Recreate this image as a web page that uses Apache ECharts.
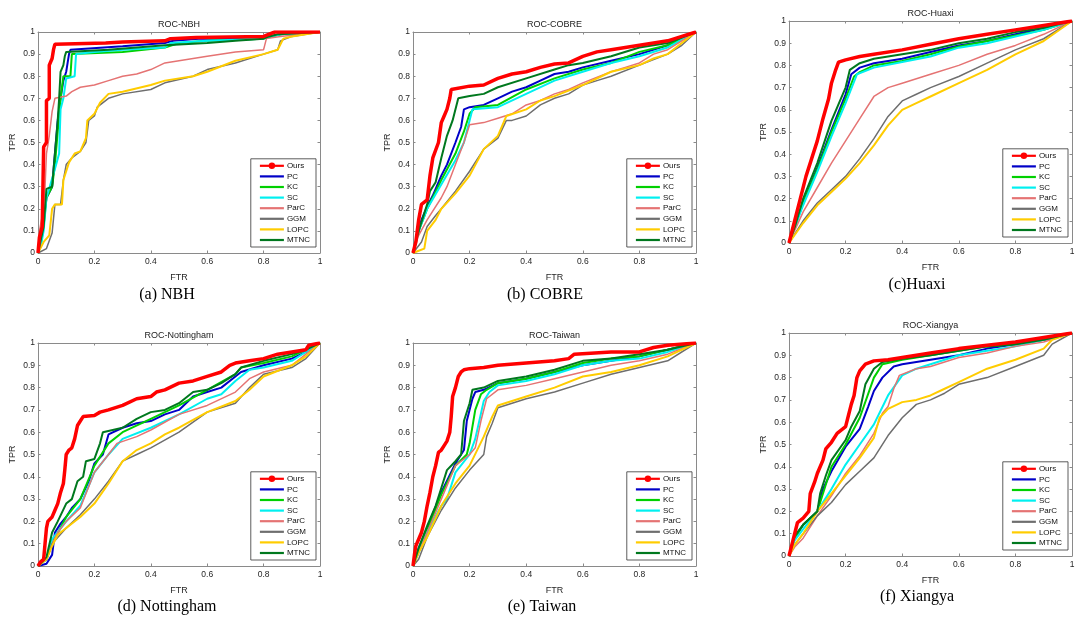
<!DOCTYPE html>
<html>
<head>
<meta charset="utf-8">
<script src="https://cdn.jsdelivr.net/npm/echarts@6/dist/echarts.min.js"></script>
<style>
  html, body { margin: 0; padding: 0; background: #fff; }
  #main { width: 1084px; height: 619px; }
</style>
</head>
<body>
<div id="main"></div>
<script>
// ---- data: [FTR, TPR] ----
const methods = ['Ours', 'PC', 'KC', 'SC', 'ParC', 'GGM', 'LOPC', 'MTNC'];
const xTicks = [0, 0.2, 0.4, 0.6, 0.8, 1];
const yTicks = [0, 0.1, 0.2, 0.3, 0.4, 0.5, 0.6, 0.7, 0.8, 0.9, 1];

// (a) NBH
const nbhOurs = [[0,0],[0.005,0.07],[0.015,0.12],[0.02,0.48],[0.03,0.5],[0.03,0.69],[0.04,0.7],[0.04,0.85],[0.05,0.88],[0.055,0.92],[0.06,0.945],[0.24,0.95],[0.3,0.955],[0.45,0.96],[0.47,0.97],[0.56,0.975],[0.8,0.98],[0.82,0.99],[0.84,1],[1,1]];
const nbhPC = [[0,0],[0.01,0.05],[0.02,0.15],[0.03,0.25],[0.05,0.3],[0.06,0.45],[0.07,0.6],[0.08,0.7],[0.09,0.78],[0.1,0.82],[0.105,0.86],[0.11,0.9],[0.115,0.92],[0.3,0.935],[0.45,0.95],[0.48,0.96],[0.57,0.97],[0.7,0.97],[0.8,0.975],[0.86,0.99],[1,1]];
const nbhKC = [[0,0],[0.01,0.04],[0.02,0.12],[0.03,0.25],[0.05,0.3],[0.06,0.4],[0.07,0.55],[0.08,0.7],[0.09,0.8],[0.115,0.8],[0.12,0.9],[0.3,0.91],[0.45,0.93],[0.5,0.95],[0.6,0.96],[0.8,0.97],[0.86,0.99],[1,1]];
const nbhSC = [[0,0],[0.01,0.03],[0.02,0.1],[0.03,0.25],[0.06,0.38],[0.075,0.45],[0.08,0.65],[0.09,0.7],[0.1,0.79],[0.13,0.8],[0.135,0.9],[0.2,0.91],[0.3,0.92],[0.45,0.93],[0.47,0.95],[0.6,0.96],[0.8,0.97],[0.86,0.99],[1,1]];
const nbhParC = [[0,0],[0.005,0.1],[0.02,0.2],[0.025,0.3],[0.03,0.45],[0.04,0.53],[0.05,0.64],[0.06,0.7],[0.1,0.71],[0.12,0.73],[0.15,0.75],[0.2,0.76],[0.25,0.78],[0.3,0.8],[0.35,0.81],[0.4,0.83],[0.45,0.86],[0.5,0.87],[0.6,0.89],[0.7,0.91],[0.8,0.92],[0.81,0.97],[0.86,0.98],[1,1]];
const nbhGGM = [[0,0],[0.03,0.02],[0.05,0.09],[0.06,0.22],[0.08,0.22],[0.09,0.33],[0.1,0.4],[0.12,0.43],[0.15,0.46],[0.17,0.5],[0.18,0.6],[0.2,0.62],[0.21,0.66],[0.25,0.7],[0.3,0.72],[0.4,0.74],[0.45,0.77],[0.55,0.8],[0.6,0.83],[0.7,0.86],[0.8,0.9],[0.85,0.92],[0.86,0.96],[0.9,0.98],[1,1]];
const nbhLOPC = [[0,0],[0.02,0.05],[0.04,0.08],[0.05,0.2],[0.06,0.22],[0.085,0.22],[0.09,0.33],[0.11,0.41],[0.13,0.45],[0.15,0.46],[0.17,0.52],[0.175,0.6],[0.2,0.63],[0.22,0.68],[0.25,0.72],[0.3,0.73],[0.4,0.76],[0.45,0.78],[0.55,0.8],[0.6,0.82],[0.7,0.87],[0.8,0.9],[0.85,0.92],[0.87,0.97],[0.9,0.98],[1,1]];
const nbhMTNC = [[0,0],[0.01,0.06],[0.02,0.12],[0.03,0.29],[0.05,0.3],[0.06,0.45],[0.07,0.6],[0.075,0.7],[0.08,0.82],[0.09,0.85],[0.095,0.89],[0.1,0.91],[0.25,0.92],[0.45,0.94],[0.6,0.95],[0.7,0.96],[0.8,0.97],[0.82,0.98],[0.85,0.99],[1,1]];

// (b) COBRE
const cobreOurs = [[0,0],[0.01,0.05],[0.02,0.15],[0.03,0.22],[0.05,0.24],[0.06,0.35],[0.07,0.43],[0.09,0.5],[0.1,0.59],[0.11,0.62],[0.12,0.65],[0.13,0.7],[0.135,0.74],[0.2,0.755],[0.25,0.76],[0.3,0.79],[0.35,0.81],[0.4,0.82],[0.45,0.84],[0.5,0.855],[0.55,0.86],[0.6,0.89],[0.65,0.91],[0.7,0.92],[0.8,0.94],[0.9,0.96],[0.95,0.98],[1,1]];
const cobrePC = [[0,0],[0.03,0.15],[0.05,0.21],[0.07,0.26],[0.1,0.35],[0.12,0.4],[0.15,0.5],[0.17,0.57],[0.18,0.65],[0.2,0.66],[0.25,0.67],[0.3,0.7],[0.35,0.73],[0.4,0.75],[0.45,0.78],[0.5,0.81],[0.55,0.82],[0.6,0.84],[0.7,0.87],[0.8,0.9],[0.9,0.94],[1,1]];
const cobreKC = [[0,0],[0.02,0.1],[0.05,0.2],[0.1,0.33],[0.15,0.45],[0.18,0.55],[0.2,0.63],[0.22,0.66],[0.3,0.67],[0.4,0.74],[0.5,0.79],[0.6,0.83],[0.7,0.86],[0.8,0.91],[0.9,0.94],[1,1]];
const cobreSC = [[0,0],[0.02,0.1],[0.05,0.2],[0.1,0.31],[0.15,0.42],[0.18,0.5],[0.2,0.6],[0.21,0.65],[0.3,0.66],[0.4,0.72],[0.5,0.78],[0.6,0.82],[0.7,0.86],[0.8,0.89],[0.9,0.93],[1,1]];
const cobreParC = [[0,0],[0.02,0.08],[0.05,0.15],[0.1,0.25],[0.12,0.3],[0.15,0.4],[0.18,0.5],[0.2,0.58],[0.25,0.59],[0.3,0.61],[0.35,0.63],[0.4,0.67],[0.45,0.69],[0.5,0.72],[0.55,0.74],[0.6,0.77],[0.7,0.82],[0.75,0.84],[0.8,0.86],[0.85,0.9],[0.9,0.92],[1,1]];
const cobreGGM = [[0,0],[0.03,0.05],[0.05,0.12],[0.08,0.17],[0.1,0.2],[0.15,0.28],[0.2,0.37],[0.25,0.47],[0.3,0.52],[0.33,0.6],[0.35,0.6],[0.4,0.62],[0.45,0.67],[0.5,0.7],[0.55,0.72],[0.6,0.76],[0.65,0.78],[0.7,0.8],[0.8,0.85],[0.9,0.9],[0.95,0.94],[1,1]];
const cobreLOPC = [[0,0],[0.02,0.01],[0.04,0.02],[0.05,0.1],[0.08,0.15],[0.1,0.2],[0.15,0.27],[0.2,0.35],[0.25,0.47],[0.3,0.53],[0.33,0.62],[0.4,0.65],[0.45,0.69],[0.5,0.71],[0.6,0.76],[0.7,0.82],[0.8,0.85],[0.85,0.88],[0.9,0.9],[0.95,0.95],[1,1]];
const cobreMTNC = [[0,0],[0.02,0.1],[0.05,0.22],[0.06,0.28],[0.08,0.32],[0.1,0.43],[0.12,0.53],[0.14,0.6],[0.16,0.7],[0.2,0.71],[0.25,0.72],[0.3,0.75],[0.4,0.79],[0.5,0.83],[0.55,0.85],[0.6,0.86],[0.7,0.89],[0.8,0.93],[0.9,0.95],[1,1]];

// (c) Huaxi
const huaxiOurs = [[0,0],[0.02,0.1],[0.04,0.2],[0.06,0.3],[0.08,0.38],[0.1,0.46],[0.12,0.56],[0.14,0.65],[0.15,0.72],[0.165,0.78],[0.175,0.815],[0.2,0.825],[0.25,0.84],[0.3,0.85],[0.4,0.87],[0.5,0.895],[0.6,0.92],[0.7,0.94],[0.8,0.96],[0.9,0.98],[1,1]];
const huaxiPC = [[0,0],[0.05,0.18],[0.1,0.34],[0.15,0.51],[0.2,0.67],[0.22,0.76],[0.25,0.79],[0.3,0.81],[0.4,0.83],[0.5,0.86],[0.6,0.89],[0.7,0.91],[0.8,0.94],[0.9,0.97],[1,1]];
const huaxiKC = [[0,0],[0.05,0.18],[0.1,0.33],[0.15,0.5],[0.2,0.65],[0.23,0.75],[0.25,0.77],[0.3,0.8],[0.4,0.82],[0.5,0.85],[0.6,0.885],[0.7,0.91],[0.8,0.935],[0.9,0.96],[1,1]];
const huaxiSC = [[0,0],[0.05,0.17],[0.1,0.32],[0.15,0.48],[0.2,0.63],[0.24,0.76],[0.3,0.79],[0.4,0.815],[0.5,0.84],[0.6,0.88],[0.7,0.9],[0.8,0.93],[0.9,0.96],[1,1]];
const huaxiParC = [[0,0],[0.05,0.14],[0.1,0.25],[0.15,0.36],[0.2,0.46],[0.25,0.56],[0.3,0.66],[0.35,0.7],[0.4,0.72],[0.5,0.76],[0.6,0.8],[0.7,0.85],[0.8,0.89],[0.9,0.94],[1,1]];
const huaxiGGM = [[0,0],[0.05,0.1],[0.1,0.18],[0.15,0.24],[0.2,0.3],[0.25,0.38],[0.3,0.47],[0.35,0.57],[0.4,0.64],[0.45,0.67],[0.5,0.7],[0.6,0.75],[0.7,0.81],[0.8,0.87],[0.9,0.92],[1,1]];
const huaxiLOPC = [[0,0],[0.05,0.09],[0.1,0.17],[0.15,0.23],[0.2,0.29],[0.25,0.36],[0.3,0.44],[0.35,0.53],[0.4,0.6],[0.45,0.63],[0.5,0.66],[0.6,0.72],[0.7,0.78],[0.8,0.85],[0.9,0.91],[1,1]];
const huaxiMTNC = [[0,0],[0.02,0.07],[0.05,0.2],[0.1,0.36],[0.15,0.55],[0.2,0.7],[0.215,0.78],[0.25,0.81],[0.3,0.83],[0.4,0.85],[0.5,0.87],[0.6,0.9],[0.7,0.92],[0.8,0.95],[0.9,0.97],[1,1]];

// (d) Nottingham
const nottOurs = [[0,0],[0.01,0.02],[0.02,0.03],[0.025,0.1],[0.03,0.17],[0.035,0.2],[0.05,0.22],[0.06,0.25],[0.07,0.28],[0.08,0.33],[0.09,0.37],[0.095,0.43],[0.1,0.5],[0.11,0.52],[0.12,0.53],[0.13,0.57],[0.14,0.63],[0.15,0.65],[0.16,0.67],[0.2,0.675],[0.22,0.69],[0.25,0.7],[0.3,0.72],[0.35,0.75],[0.4,0.76],[0.42,0.78],[0.45,0.79],[0.5,0.82],[0.55,0.83],[0.6,0.85],[0.65,0.87],[0.68,0.9],[0.7,0.91],[0.75,0.92],[0.8,0.93],[0.85,0.95],[0.9,0.96],[0.95,0.97],[0.96,0.99],[1,1]];
const nottPC = [[0,0],[0.03,0.01],[0.05,0.05],[0.06,0.15],[0.08,0.19],[0.1,0.22],[0.12,0.26],[0.15,0.3],[0.18,0.38],[0.2,0.46],[0.23,0.5],[0.25,0.59],[0.3,0.62],[0.35,0.64],[0.4,0.65],[0.45,0.68],[0.5,0.7],[0.55,0.76],[0.6,0.78],[0.65,0.8],[0.7,0.85],[0.72,0.87],[0.8,0.9],[0.9,0.93],[0.95,0.96],[1,1]];
const nottKC = [[0,0],[0.03,0.03],[0.05,0.1],[0.1,0.22],[0.15,0.3],[0.2,0.45],[0.25,0.55],[0.3,0.6],[0.4,0.66],[0.5,0.72],[0.6,0.79],[0.7,0.86],[0.72,0.89],[0.8,0.91],[0.9,0.94],[1,1]];
const nottSC = [[0,0],[0.03,0.03],[0.05,0.12],[0.1,0.2],[0.15,0.27],[0.2,0.42],[0.25,0.5],[0.3,0.57],[0.4,0.62],[0.5,0.68],[0.6,0.75],[0.65,0.77],[0.7,0.83],[0.75,0.88],[0.8,0.89],[0.9,0.92],[1,1]];
const nottParC = [[0,0],[0.03,0.03],[0.05,0.1],[0.07,0.15],[0.1,0.2],[0.15,0.26],[0.2,0.42],[0.25,0.5],[0.28,0.55],[0.35,0.58],[0.4,0.61],[0.5,0.68],[0.6,0.72],[0.7,0.78],[0.75,0.84],[0.8,0.87],[0.9,0.9],[0.95,0.95],[1,1]];
const nottGGM = [[0,0],[0.03,0.03],[0.05,0.1],[0.1,0.17],[0.15,0.23],[0.2,0.3],[0.25,0.38],[0.3,0.47],[0.35,0.5],[0.4,0.53],[0.5,0.6],[0.6,0.69],[0.7,0.73],[0.75,0.8],[0.8,0.86],[0.9,0.89],[0.95,0.93],[1,1]];
const nottLOPC = [[0,0],[0.03,0.03],[0.05,0.09],[0.07,0.14],[0.1,0.17],[0.15,0.22],[0.2,0.28],[0.25,0.37],[0.3,0.47],[0.35,0.52],[0.4,0.55],[0.45,0.59],[0.5,0.62],[0.6,0.69],[0.7,0.74],[0.75,0.79],[0.8,0.85],[0.9,0.9],[0.95,0.94],[1,1]];
const nottMTNC = [[0,0],[0.03,0.04],[0.05,0.15],[0.07,0.2],[0.1,0.28],[0.12,0.3],[0.14,0.38],[0.16,0.4],[0.17,0.47],[0.2,0.48],[0.22,0.55],[0.23,0.6],[0.3,0.62],[0.35,0.66],[0.4,0.69],[0.45,0.7],[0.5,0.73],[0.55,0.78],[0.6,0.79],[0.65,0.82],[0.7,0.86],[0.72,0.89],[0.8,0.92],[0.9,0.95],[0.95,0.97],[1,1]];

// (e) Taiwan
const taiwanOurs = [[0,0],[0.005,0.05],[0.01,0.09],[0.02,0.12],[0.03,0.15],[0.04,0.2],[0.05,0.27],[0.06,0.33],[0.07,0.4],[0.08,0.45],[0.09,0.51],[0.1,0.52],[0.11,0.54],[0.12,0.56],[0.13,0.6],[0.135,0.67],[0.14,0.76],[0.15,0.8],[0.16,0.85],[0.17,0.87],[0.18,0.88],[0.2,0.885],[0.25,0.89],[0.3,0.9],[0.4,0.91],[0.5,0.92],[0.55,0.93],[0.57,0.95],[0.7,0.96],[0.8,0.96],[0.85,0.98],[0.9,0.99],[1,1]];
const taiwanPC = [[0,0],[0.02,0.08],[0.05,0.17],[0.1,0.33],[0.15,0.46],[0.18,0.52],[0.19,0.65],[0.21,0.75],[0.22,0.78],[0.25,0.79],[0.3,0.82],[0.4,0.84],[0.5,0.87],[0.6,0.9],[0.7,0.92],[0.8,0.94],[0.9,0.97],[1,1]];
const taiwanKC = [[0,0],[0.02,0.07],[0.05,0.16],[0.1,0.32],[0.15,0.45],[0.19,0.5],[0.2,0.55],[0.22,0.7],[0.24,0.77],[0.26,0.79],[0.3,0.82],[0.4,0.84],[0.5,0.87],[0.6,0.91],[0.7,0.93],[0.8,0.94],[0.9,0.97],[1,1]];
const taiwanSC = [[0,0],[0.02,0.06],[0.05,0.15],[0.1,0.27],[0.12,0.3],[0.15,0.42],[0.2,0.5],[0.22,0.57],[0.25,0.74],[0.27,0.78],[0.3,0.81],[0.4,0.83],[0.5,0.86],[0.6,0.9],[0.7,0.92],[0.8,0.93],[0.9,0.96],[1,1]];
const taiwanParC = [[0,0],[0.02,0.06],[0.05,0.15],[0.1,0.3],[0.15,0.45],[0.2,0.5],[0.22,0.53],[0.24,0.65],[0.26,0.75],[0.3,0.79],[0.4,0.81],[0.5,0.84],[0.6,0.87],[0.7,0.9],[0.8,0.92],[0.9,0.95],[1,1]];
const taiwanGGM = [[0,0],[0.02,0.03],[0.05,0.13],[0.1,0.25],[0.15,0.35],[0.2,0.43],[0.25,0.5],[0.26,0.58],[0.28,0.64],[0.3,0.71],[0.35,0.73],[0.4,0.75],[0.5,0.78],[0.6,0.82],[0.7,0.86],[0.8,0.89],[0.9,0.92],[1,1]];
const taiwanLOPC = [[0,0],[0.02,0.06],[0.05,0.13],[0.1,0.27],[0.15,0.37],[0.2,0.45],[0.25,0.58],[0.28,0.67],[0.3,0.72],[0.35,0.74],[0.4,0.76],[0.5,0.8],[0.6,0.85],[0.7,0.87],[0.8,0.9],[0.9,0.94],[1,1]];
const taiwanMTNC = [[0,0],[0.02,0.08],[0.05,0.18],[0.08,0.27],[0.1,0.35],[0.12,0.43],[0.15,0.47],[0.17,0.5],[0.18,0.65],[0.2,0.73],[0.21,0.79],[0.25,0.8],[0.3,0.83],[0.4,0.85],[0.5,0.88],[0.6,0.92],[0.7,0.93],[0.8,0.95],[0.9,0.97],[1,1]];

// (f) Xiangya
const xiangyaOurs = [[0,0],[0.01,0.05],[0.02,0.1],[0.03,0.15],[0.05,0.17],[0.07,0.2],[0.075,0.28],[0.09,0.33],[0.1,0.37],[0.12,0.43],[0.13,0.48],[0.15,0.51],[0.17,0.55],[0.2,0.58],[0.21,0.63],[0.22,0.68],[0.23,0.72],[0.24,0.8],[0.25,0.83],[0.27,0.86],[0.3,0.875],[0.35,0.88],[0.4,0.89],[0.5,0.91],[0.6,0.93],[0.7,0.945],[0.8,0.96],[0.9,0.98],[1,1]];
const xiangyaPC = [[0,0],[0.02,0.08],[0.05,0.14],[0.1,0.2],[0.12,0.3],[0.15,0.38],[0.2,0.49],[0.25,0.57],[0.28,0.67],[0.3,0.74],[0.33,0.8],[0.37,0.85],[0.4,0.86],[0.5,0.88],[0.6,0.9],[0.7,0.93],[0.8,0.95],[0.9,0.97],[1,1]];
const xiangyaKC = [[0,0],[0.02,0.08],[0.05,0.14],[0.1,0.2],[0.15,0.4],[0.2,0.5],[0.25,0.62],[0.3,0.8],[0.33,0.86],[0.4,0.88],[0.5,0.9],[0.6,0.92],[0.7,0.94],[0.8,0.95],[0.9,0.97],[1,1]];
const xiangyaSC = [[0,0],[0.02,0.07],[0.05,0.12],[0.1,0.2],[0.15,0.3],[0.2,0.41],[0.25,0.5],[0.3,0.59],[0.35,0.72],[0.4,0.81],[0.45,0.84],[0.5,0.86],[0.6,0.9],[0.7,0.92],[0.8,0.94],[0.9,0.97],[1,1]];
const xiangyaParC = [[0,0],[0.02,0.04],[0.05,0.08],[0.1,0.18],[0.15,0.27],[0.2,0.37],[0.25,0.45],[0.3,0.55],[0.33,0.64],[0.35,0.67],[0.37,0.75],[0.39,0.81],[0.45,0.84],[0.5,0.85],[0.6,0.89],[0.7,0.91],[0.8,0.94],[0.9,0.96],[1,1]];
const xiangyaGGM = [[0,0],[0.02,0.05],[0.05,0.1],[0.1,0.18],[0.15,0.24],[0.2,0.32],[0.25,0.38],[0.3,0.44],[0.35,0.54],[0.4,0.62],[0.45,0.68],[0.5,0.7],[0.55,0.73],[0.6,0.77],[0.7,0.8],[0.8,0.85],[0.9,0.9],[0.93,0.95],[1,1]];
const xiangyaLOPC = [[0,0],[0.02,0.05],[0.05,0.1],[0.1,0.2],[0.15,0.28],[0.2,0.36],[0.25,0.44],[0.3,0.53],[0.32,0.62],[0.35,0.66],[0.4,0.69],[0.45,0.7],[0.5,0.72],[0.55,0.75],[0.6,0.78],[0.7,0.84],[0.8,0.88],[0.9,0.93],[0.93,0.97],[1,1]];
const xiangyaMTNC = [[0,0],[0.02,0.09],[0.05,0.14],[0.1,0.2],[0.11,0.28],[0.13,0.36],[0.15,0.43],[0.2,0.52],[0.22,0.58],[0.25,0.65],[0.27,0.77],[0.3,0.84],[0.33,0.87],[0.4,0.885],[0.5,0.9],[0.6,0.92],[0.7,0.94],[0.8,0.95],[0.9,0.97],[1,1]];

const titles = ['ROC-NBH', 'ROC-COBRE', 'ROC-Huaxi', 'ROC-Nottingham', 'ROC-Taiwan', 'ROC-Xiangya'];
const captions = ['(a) NBH', '(b) COBRE', '(c)Huaxi', '(d) Nottingham', '(e) Taiwan', '(f) Xiangya'];
const curves = [
  [nbhOurs, nbhPC, nbhKC, nbhSC, nbhParC, nbhGGM, nbhLOPC, nbhMTNC],
  [cobreOurs, cobrePC, cobreKC, cobreSC, cobreParC, cobreGGM, cobreLOPC, cobreMTNC],
  [huaxiOurs, huaxiPC, huaxiKC, huaxiSC, huaxiParC, huaxiGGM, huaxiLOPC, huaxiMTNC],
  [nottOurs, nottPC, nottKC, nottSC, nottParC, nottGGM, nottLOPC, nottMTNC],
  [taiwanOurs, taiwanPC, taiwanKC, taiwanSC, taiwanParC, taiwanGGM, taiwanLOPC, taiwanMTNC],
  [xiangyaOurs, xiangyaPC, xiangyaKC, xiangyaSC, xiangyaParC, xiangyaGGM, xiangyaLOPC, xiangyaMTNC]
];

// ---- layout / styles ----
const W = 1084, H = 619;
// plot boxes: left, top, width, height; caption centre
const boxes = [
  { l: 38,  t: 32,  w: 282, h: 221, cx: 167, cy: 295 },
  { l: 413, t: 32,  w: 283, h: 221, cx: 545, cy: 295 },
  { l: 789, t: 21,  w: 283, h: 222, cx: 917, cy: 285 },
  { l: 38,  t: 343, w: 282, h: 223, cx: 167, cy: 607 },
  { l: 413, t: 343, w: 283, h: 223, cx: 542, cy: 607 },
  { l: 789, t: 333, w: 283, h: 223, cx: 917, cy: 597 }
];
const colors = ['#ff0000', '#0000c8', '#00d000', '#00f0f0', '#e57373', '#6e6e6e', '#ffcc00', '#00781e'];
const widths = [3.5, 2, 2, 2, 1.5, 1.5, 2, 2];
const sans = 'Liberation Sans';
const axisColor = '#8a8a8a';
const labelColor = '#262626';

function ticks() {
  return { show: true, inside: true, length: 2.5, lineStyle: { color: axisColor, width: 1 } };
}

let grid = [], xAxis = [], yAxis = [], series = [], legend = [], graphic = [];

boxes.forEach(function(b, i) {
  grid.push({ left: b.l, top: b.t, width: b.w, height: b.h, containLabel: false });

  // bottom + top x axes
  xAxis.push({
    type: 'value', gridIndex: i, min: 0, max: 1, interval: 0.2, position: 'bottom',
    name: 'FTR', nameLocation: 'middle', nameGap: 20,
    nameTextStyle: { fontFamily: sans, fontSize: 9, color: labelColor },
    axisLine: { show: true, onZero: false, lineStyle: { color: axisColor } },
    axisTick: ticks(),
    axisLabel: { fontFamily: sans, fontSize: 8.5, color: labelColor, margin: 4,
      formatter: function(v) { return String(xTicks[Math.round(v * 5)]); } },
    splitLine: { show: false }
  });
  xAxis.push({
    type: 'value', gridIndex: i, min: 0, max: 1, interval: 0.2, position: 'top',
    axisLine: { show: true, onZero: false, lineStyle: { color: axisColor } },
    axisTick: ticks(), axisLabel: { show: false }, splitLine: { show: false }
  });
  yAxis.push({
    type: 'value', gridIndex: i, min: 0, max: 1, interval: 0.1, position: 'left',
    name: 'TPR', nameLocation: 'middle', nameGap: 21,
    nameTextStyle: { fontFamily: sans, fontSize: 9, color: labelColor },
    axisLine: { show: true, onZero: false, lineStyle: { color: axisColor } },
    axisTick: ticks(),
    axisLabel: { fontFamily: sans, fontSize: 8.5, color: labelColor, margin: 3,
      formatter: function(v) { return String(yTicks[Math.round(v * 10)]); } },
    splitLine: { show: false }
  });
  yAxis.push({
    type: 'value', gridIndex: i, min: 0, max: 1, interval: 0.1, position: 'right',
    axisLine: { show: true, onZero: false, lineStyle: { color: axisColor } },
    axisTick: ticks(), axisLabel: { show: false }, splitLine: { show: false }
  });

  // draw Ours last so it sits on top
  const order = [1, 2, 3, 4, 5, 6, 7, 0];
  order.forEach(function(m) {
    series.push({
      name: methods[m], type: 'line',
      xAxisIndex: i * 2, yAxisIndex: i * 2,
      data: curves[i][m],
      symbol: 'circle', symbolSize: 5, showSymbol: false,
      lineStyle: { color: colors[m], width: widths[m] },
      itemStyle: { color: colors[m] },
      z: m === 0 ? 5 : 3,
      animation: false, silent: true
    });
  });

  legend.push({
    // only "Ours" keeps its marker in the legend
    data: methods.map(function(name, m) {
      return m === 0
        ? { name: name }
        : { name: name, itemStyle: { color: 'rgba(0,0,0,0)', borderColor: 'rgba(0,0,0,0)', opacity: 0 } };
    }),
    orient: 'vertical',
    right: W - (b.l + b.w - 4), bottom: H - (b.t + b.h - 6),
    itemWidth: 24, itemHeight: 8, itemGap: 2.6,
    padding: [3, 6, 3, 8],
    backgroundColor: '#fff', borderColor: '#333', borderWidth: 0.8,
    lineStyle: { width: 2.2 },
    textStyle: { fontFamily: sans, fontSize: 8, color: '#111', padding: [0, 0, 0, -2] },
    selectedMode: false
  });

  graphic.push({
    type: 'text',
    style: { text: titles[i], x: b.l + b.w / 2, y: b.t - 7, align: 'center', verticalAlign: 'middle',
      fontFamily: sans, fontSize: 9, fill: '#222' }
  });
  graphic.push({
    type: 'text',
    style: { text: captions[i], x: b.cx, y: b.cy, align: 'center', verticalAlign: 'middle',
      fontFamily: 'Liberation Serif', fontSize: 16, fill: '#000' }
  });
});

let myChart = echarts.init(document.getElementById('main'));
myChart.setOption({
  backgroundColor: '#fff',
  animation: false,
  grid: grid,
  xAxis: xAxis,
  yAxis: yAxis,
  legend: legend,
  series: series,
  graphic: graphic
});
</script>
</body>
</html>
